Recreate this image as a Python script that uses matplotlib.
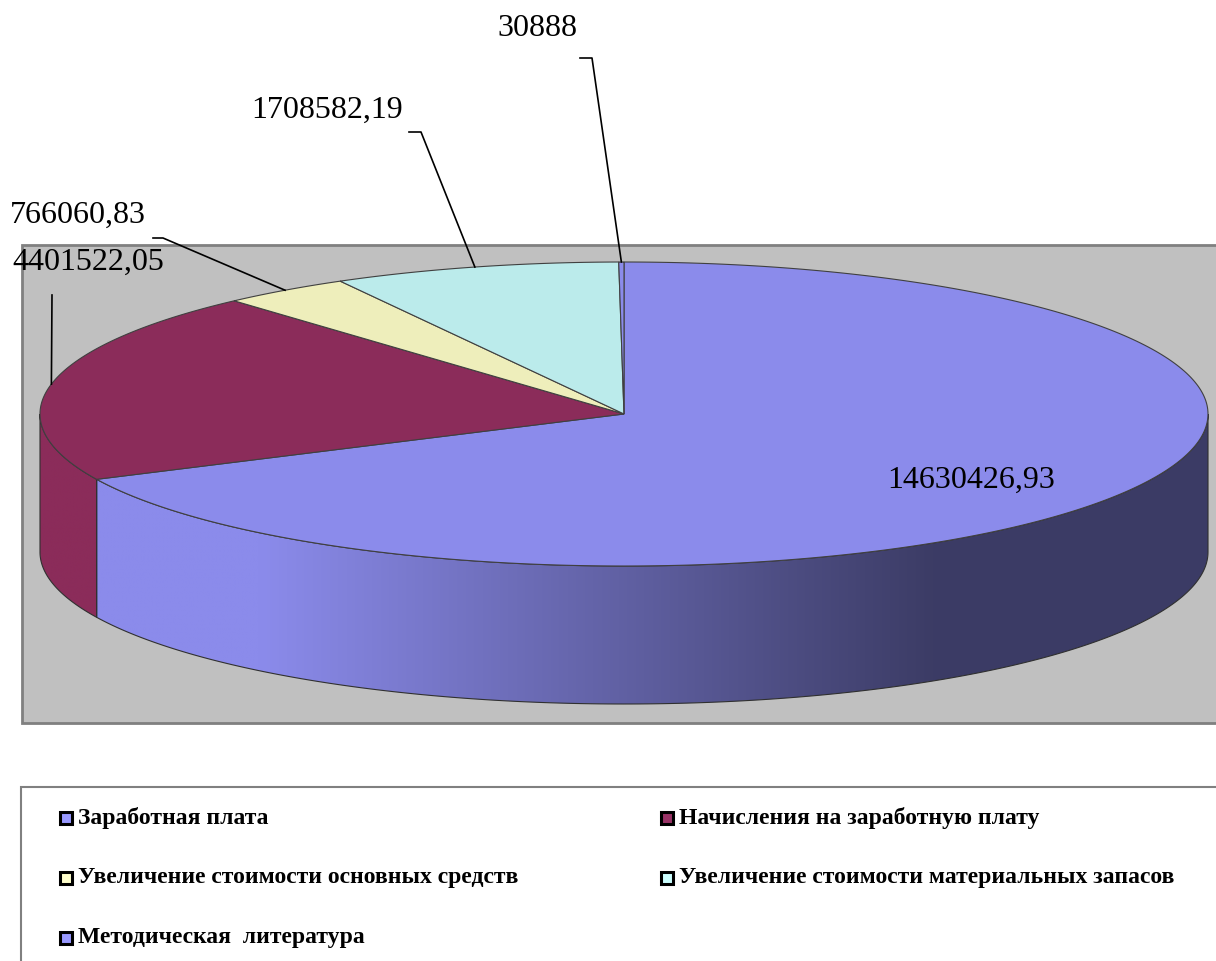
import numpy as np
import matplotlib.pyplot as plt
from matplotlib.patches import Polygon, Rectangle

# data
labels = ["Заработная плата", "Начисления на заработную плату",
          "Увеличение стоимости основных средств",
          "Увеличение стоимости материальных запасов",
          "Методическая  литература"]
values = [14630426.93, 4401522.05, 766060.83, 1708582.19, 30888]
value_text = ["14630426,93", "4401522,05", "766060,83", "1708582,19", "30888"]

top_colors = ["#8b8beb", "#8b2c5a", "#eeeebb", "#bbebeb", "#8b8beb"]
legend_colors = ["#9999ff", "#993366", "#ffffcc", "#ccffff", "#9999ff"]

# label layout (text centre, leader start points)
label_pos = [(971, 480), (88, 262), (78, 215), (327, 110), (537, 28)]
leader_pts = [None, [(52, 295)], [(153, 238), (163, 238)],
              [(409, 132), (421, 132)], [(580, 58), (592, 58)]]

plt.rcParams['font.family'] = ['Liberation Serif', 'DejaVu Serif']

fig = plt.figure(figsize=(12.16, 9.61), dpi=100)
ax = fig.add_axes([0, 0, 1, 1])
ax.set_xlim(0, 1216)
ax.set_ylim(961, 0)
ax.axis('off')

cx, cy, rx, ry, depth = 624, 414, 584, 152, 138


def rim(t):
    t = np.radians(t)
    return cx + rx * np.cos(t), cy - ry * np.sin(t)


def shade(x):
    k = np.clip((x - 260) / (935 - 260), 0, 1)
    return 1 - 0.57 * k


# plot area
ax.add_patch(Rectangle((22, 245), 1210, 478, fc='#c0c0c0', ec='#808080', lw=2, zorder=0))

frac = np.array(values) / sum(values)
bounds = 90 - 360 * np.concatenate([[0], np.cumsum(frac)])

# side walls (front half of the pie only)
for i in range(len(values)):
    start, end = bounds[i], bounds[i + 1]
    for k in (-1, 0, 1):
        lo, hi = max(end, -180 + 360 * k), min(start, 360 * k)
        if hi <= lo:
            continue
        ts = np.linspace(hi, lo, 200)
        xs, ys = rim(ts)
        pts = np.vstack([np.column_stack([xs, ys]),
                         np.column_stack([xs[::-1], ys[::-1] + depth])])
        poly = Polygon(pts, closed=True, fc='none', ec='#303030', lw=0.8, zorder=2)
        ax.add_patch(poly)
        gx = np.linspace(xs.min(), xs.max(), 300)
        base = np.array(plt.matplotlib.colors.to_rgb(top_colors[i]))
        img = (base[None, :] * shade(gx)[:, None])[None, :, :]
        im = ax.imshow(img, extent=(gx[0], gx[-1], ys.max() + depth + 2, ys.min() - 2),
                       aspect='auto', zorder=1, interpolation='bilinear')
        im.set_clip_path(poly)

ax.set_xlim(0, 1216)
ax.set_ylim(961, 0)

# top face
for i in range(len(values)):
    ts = np.linspace(bounds[i], bounds[i + 1], 300)
    xs, ys = rim(ts)
    pts = np.vstack([[cx, cy], np.column_stack([xs, ys])])
    ax.add_patch(Polygon(pts, closed=True, fc=top_colors[i], ec='#404040', lw=0.8, zorder=3))

# data labels with leader lines
for i in range(len(values)):
    lx, ly = label_pos[i]
    ax.text(lx, ly, value_text[i], fontsize=23, ha='center', va='center', zorder=5)
    if leader_pts[i] is not None:
        mx, my = rim((bounds[i] + bounds[i + 1]) / 2)
        px = [p[0] for p in leader_pts[i]] + [mx]
        py = [p[1] for p in leader_pts[i]] + [my]
        ax.plot(px, py, color='black', lw=1.2, zorder=5)

# legend
ax.add_patch(Rectangle((21, 787), 1230, 250, fc='white', ec='#808080', lw=1.5, zorder=0))
for i, lab in enumerate(labels):
    row, col = i // 2, i % 2
    x0 = 60 + col * 601
    y0 = 818 + row * 60
    ax.add_patch(Rectangle((x0, y0 - 6), 12, 12, fc=legend_colors[i], ec='black', lw=2.2, zorder=5))
    ax.text(x0 + 18, y0, lab, fontsize=17, fontweight='bold', ha='left', va='center', zorder=5)

fig.savefig('out.png', dpi=100)
